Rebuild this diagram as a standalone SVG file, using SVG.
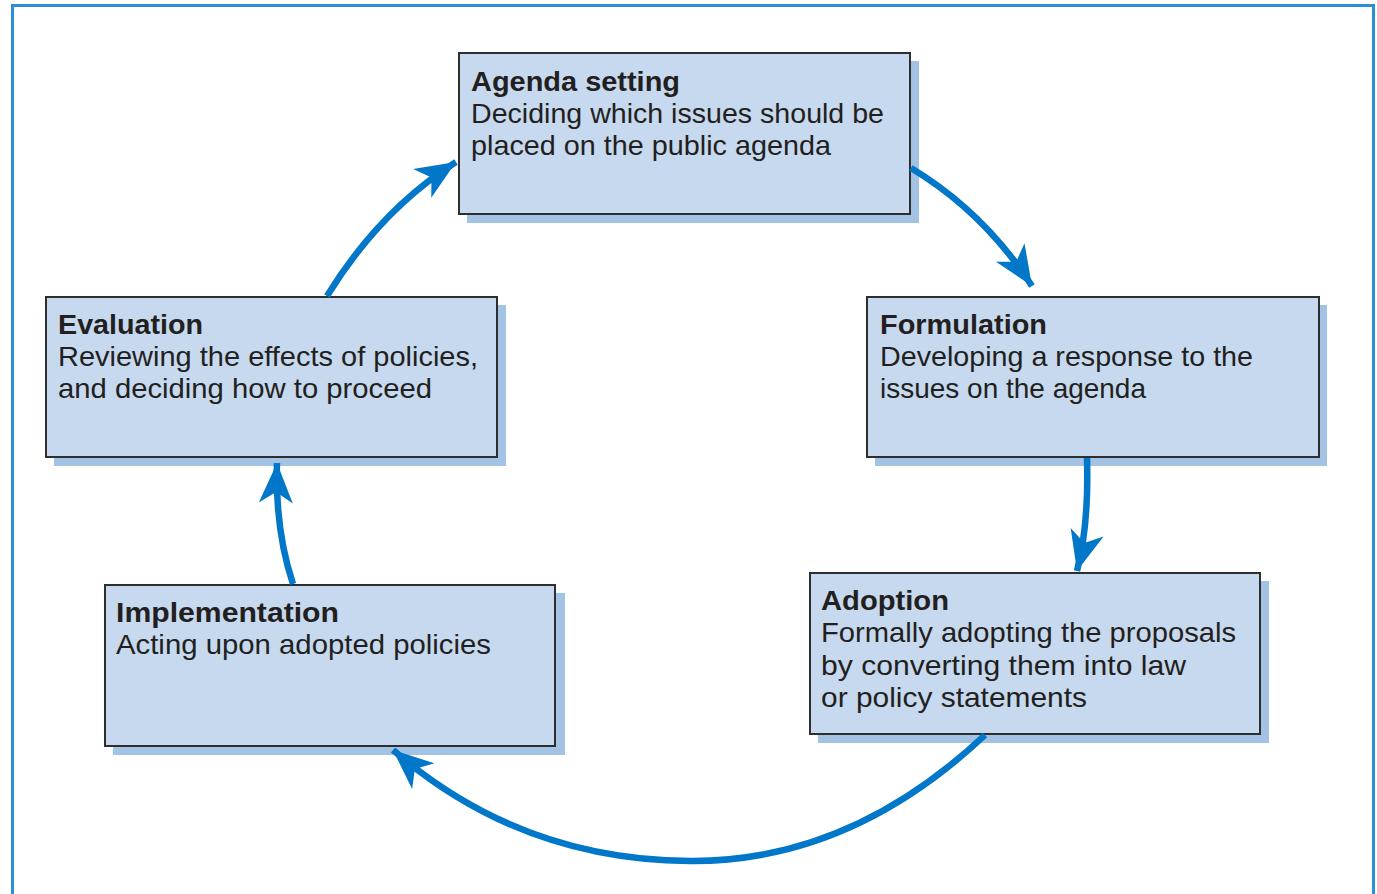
<svg xmlns="http://www.w3.org/2000/svg" width="1377" height="894" viewBox="0 0 1377 894">
<style>
.shadow{fill:#a3c3e4}
.box{fill:#c6d9ee;stroke:#2e2e2e;stroke-width:2}
.t{font-family:"Liberation Sans",Arial,sans-serif;font-size:28px;fill:#231f20}
.b{font-weight:bold}
.conn{fill:none;stroke:#0077c8;stroke-width:6.5;stroke-linecap:butt}
</style>
<defs>
<marker id="ah" markerUnits="userSpaceOnUse" markerWidth="60" markerHeight="60" viewBox="-50 -30 60 60" refX="0" refY="0" orient="auto">
<path d="M0,0 L-40,-17 L-29,0 L-40,17 Z" fill="#0077c8"/>
</marker>
</defs>
<rect width="1377" height="894" fill="#ffffff"/>
<path d="M12.5,894 V5.5 H1373.5 V894" fill="none" stroke="#2a8fd6" stroke-width="3"/>
<g id="agenda">
<rect class="shadow" x="467" y="61" width="452" height="162"/>
<rect class="box" x="459" y="53" width="451" height="161"/>
<text class="t b" x="471" y="91" textLength="209" lengthAdjust="spacingAndGlyphs">Agenda setting</text>
<text class="t" x="471" y="123" textLength="413" lengthAdjust="spacingAndGlyphs">Deciding which issues should be</text>
<text class="t" x="471" y="155" textLength="360" lengthAdjust="spacingAndGlyphs">placed on the public agenda</text>
</g>
<g id="formulation">
<rect class="shadow" x="875" y="305" width="452" height="161"/>
<rect class="box" x="867" y="297" width="452" height="160"/>
<text class="t b" x="880" y="334" textLength="167" lengthAdjust="spacingAndGlyphs">Formulation</text>
<text class="t" x="880" y="366" textLength="373" lengthAdjust="spacingAndGlyphs">Developing a response to the</text>
<text class="t" x="880" y="398" textLength="266" lengthAdjust="spacingAndGlyphs">issues on the agenda</text>
</g>
<g id="adoption">
<rect class="shadow" x="818" y="581" width="451" height="162"/>
<rect class="box" x="810" y="573" width="450" height="161"/>
<text class="t b" x="821" y="610" textLength="128" lengthAdjust="spacingAndGlyphs">Adoption</text>
<text class="t" x="821" y="642" textLength="415" lengthAdjust="spacingAndGlyphs">Formally adopting the proposals</text>
<text class="t" x="821" y="675" textLength="365" lengthAdjust="spacingAndGlyphs">by converting them into law</text>
<text class="t" x="821" y="707" textLength="266" lengthAdjust="spacingAndGlyphs">or policy statements</text>
</g>
<g id="implementation">
<rect class="shadow" x="113" y="593" width="452" height="162"/>
<rect class="box" x="105" y="585" width="450" height="161"/>
<text class="t b" x="116" y="622" textLength="223" lengthAdjust="spacingAndGlyphs">Implementation</text>
<text class="t" x="116" y="654" textLength="375" lengthAdjust="spacingAndGlyphs">Acting upon adopted policies</text>
</g>
<g id="evaluation">
<rect class="shadow" x="54" y="305" width="452" height="161"/>
<rect class="box" x="46" y="297" width="451" height="160"/>
<text class="t b" x="58" y="334" textLength="145" lengthAdjust="spacingAndGlyphs">Evaluation</text>
<text class="t" x="58" y="366" textLength="420" lengthAdjust="spacingAndGlyphs">Reviewing the effects of policies,</text>
<text class="t" x="58" y="398" textLength="374" lengthAdjust="spacingAndGlyphs">and deciding how to proceed</text>
</g>
<g id="connectors">
<path class="conn" d="M911,168 Q984,212 1032,286" marker-end="url(#ah)"/>
<path class="conn" d="M1087,458 Q1089,525 1077,571" marker-end="url(#ah)"/>
<path class="conn" d="M985,735 Q850,862 690,861 Q520,860 393,750" marker-end="url(#ah)"/>
<path class="conn" d="M293,584 Q275,530 277,463" marker-end="url(#ah)"/>
<path class="conn" d="M327,296 Q380,210 456,162" marker-end="url(#ah)"/>
</g>
</svg>
